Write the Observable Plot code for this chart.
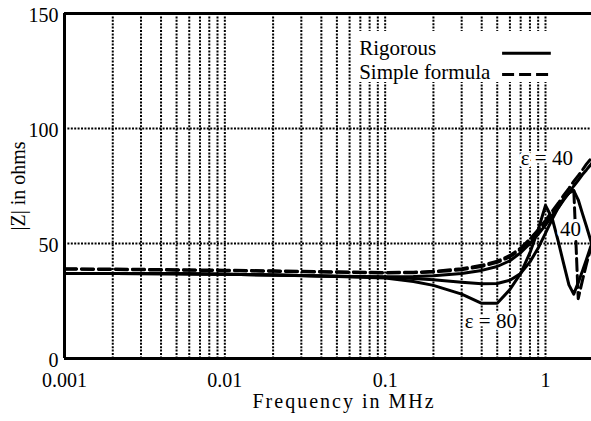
<!DOCTYPE html>
<html>
<head>
<meta charset="utf-8">
<script src="https://cdn.jsdelivr.net/npm/d3@7"></script>
<script src="https://cdn.jsdelivr.net/npm/@observablehq/plot@0.6"></script>
<style>
  html, body { margin: 0; padding: 0; background: #fff; }
  #chart svg, #chart svg text { font-family: "Liberation Serif", "Times New Roman", Times, serif !important; }
</style>
</head>
<body>
<div id="chart"></div>
<script>
// ---- data ----
const freq = [0.001, 0.002, 0.005, 0.01, 0.02, 0.05, 0.1, 0.15, 0.2, 0.3, 0.4, 0.5, 0.6, 0.7, 0.8, 0.9, 1.0, 1.1, 1.2, 1.3, 1.4, 1.5, 1.6, 1.7, 1.8, 1.9, 2.0];

// solid, smooth rising curve (upper pair)
const rigorousUpper = [37, 37, 36.8, 36.6, 36.3, 35.8, 35.5, 35.6, 36, 37, 38.3, 40, 42.5, 46, 50, 54, 58, 62, 65.5, 69, 72, 75, 77.5, 80, 82, 84, 86];
// dashed, smooth rising curve (upper pair)
const simpleUpper = [39, 38.9, 38.6, 38.4, 38.1, 37.7, 37.4, 37.5, 37.9, 39, 40.5, 42.3, 44.8, 48, 52, 56, 60, 64, 67.5, 71, 74, 77, 79.5, 82, 84.5, 86.5, 88.5];
// solid curve labelled "40" (dip ~32, peak ~73)
const rigorousMid = [37, 37, 36.8, 36.6, 36.3, 35.8, 35.3, 34.8, 34.2, 33.2, 32.5, 32.6, 34, 37, 42, 48, 54.5, 60.5, 65.5, 69.5, 72, 73, 69, 63, 57.5, 52, 47];
// solid curve labelled "ε = 80" (dip ~24, peak ~66, second dip ~28)
const rigorous80 = [37, 37, 36.8, 36.6, 36.3, 35.7, 35, 33.5, 31.8, 28, 24, 24, 30, 37, 46, 56, 66.5, 61, 51, 41, 32, 28, 33, 38, 43, 48, 52];
// dashed curve that follows the upper pair then drops sharply
const simpleDrop = [38.8, 38.7, 38.4, 38.2, 37.9, 37.5, 37.2, 37.3, 37.6, 38.6, 40, 41.8, 44.2, 47.4, 51.3, 55.3, 59.2, 63, 66.5, 69.5, 72, 74, 26, 34, 41, 47, 52];

const seriesNames = ["rigorousUpper", "simpleUpper", "rigorousMid", "rigorous80", "simpleDrop"];
const seriesValues = [rigorousUpper, simpleUpper, rigorousMid, rigorous80, simpleDrop];
const seriesDashed = [false, true, false, false, true];

const xTicks = [0.001, 0.01, 0.1, 1];
const xTickLabels = ["0.001", "0.01", "0.1", "1"];
const yTicks = [0, 50, 100, 150];
const gridX = [0.002, 0.003, 0.004, 0.005, 0.006, 0.007, 0.008, 0.009, 0.01,
               0.02, 0.03, 0.04, 0.05, 0.06, 0.07, 0.08, 0.09, 0.1,
               0.2, 0.3, 0.4, 0.5, 0.6, 0.7, 0.8, 0.9, 1];
const gridY = [50, 100];

const xTitle = "Frequency in MHz";
const yTitle = "|Z| in ohms";

const legendLabels = ["Rigorous", "Simple formula"];
const legendTextY = [134.7, 124.5];
const legendLineY = [132.7, 123.5];
const legendDashed = [false, true];

const annoText = ["ε = 40", "40", "ε = 80"];
const annoF = [1.02, 1.43, 0.456];
const annoZ = [87, 56.3, 16];

// ---- tables built from the arrays ----
const rows = [];
seriesNames.forEach((name, s) => {
  freq.forEach((f, i) => rows.push({f, z: seriesValues[s][i], series: name, dashed: seriesDashed[s]}));
});
const legendRows = legendLabels.map((label, i) => ({label, ty: legendTextY[i], ly: legendLineY[i], dashed: legendDashed[i]}));
const annoRows = annoText.map((t, i) => ({t, f: annoF[i], z: annoZ[i]}));

const font = "Liberation Serif, Times New Roman, Times, serif";
const dotted = {stroke: "#000", strokeWidth: 2, strokeDasharray: "2,1.4"};

const chart = Plot.plot({
  width: 591,
  height: 421,
  marginLeft: 64,
  marginRight: 0,
  marginTop: 13,
  marginBottom: 63,
  style: {fontFamily: font, fontSize: "20px", background: "#fff", color: "#000"},
  x: {type: "log", domain: [0.001, 1.936]},
  y: {domain: [0, 150]},
  marks: [
    Plot.ruleX(gridX, dotted),
    Plot.ruleY(gridY, dotted),
    Plot.line(rows.filter(d => !d.dashed), {x: "f", y: "z", z: "series", stroke: "#000", strokeWidth: 3, clip: true}),
    Plot.line(rows.filter(d => d.dashed), {x: "f", y: "z", z: "series", stroke: "#000", strokeWidth: 3, strokeDasharray: "12,5", clip: true}),
    Plot.ruleX([0.001], {stroke: "#000", strokeWidth: 3}),
    Plot.ruleY([0, 150], {stroke: "#000", strokeWidth: 3}),
    Plot.axisX(xTicks, {tickSize: 0, tickPadding: 14, tickFormat: d => xTickLabels[xTicks.indexOf(d)], label: null, fontSize: 20}),
    Plot.axisY(yTicks, {tickSize: 0, tickPadding: 6, dy: 2, label: null, fontSize: 20}),
    Plot.text([xTitle], {frameAnchor: "bottom", textAnchor: "middle", lineAnchor: "middle", dy: 43, dx: 16, fontSize: 20}),
    Plot.text([yTitle], {frameAnchor: "left", textAnchor: "middle", lineAnchor: "middle", rotate: -90, dx: -46, fontSize: 20}),
    // legend box
    Plot.rect([{x1: 0.0631, x2: 1.12, y1: 120, y2: 142.2}], {x1: "x1", x2: "x2", y1: "y1", y2: "y2", fill: "#fff"}),
    Plot.text(legendRows, {x: 0.0688, y: "ty", text: "label", textAnchor: "start", lineAnchor: "middle", fontSize: 21}),
    Plot.ruleY(legendRows.filter(d => !d.dashed), {y: "ly", x1: 0.54, x2: 1.087, stroke: "#000", strokeWidth: 3}),
    Plot.ruleY(legendRows.filter(d => d.dashed), {y: "ly", x1: 0.54, x2: 1.087, stroke: "#000", strokeWidth: 3, strokeDasharray: "12,5"}),
    // annotations
    Plot.text(annoRows, {x: "f", y: "z", text: "t", lineAnchor: "middle", fontSize: 21, fill: "#000", stroke: "#fff", strokeWidth: 6})
  ]
});

chart.querySelectorAll("text").forEach(t => {
  if (t.textContent === xTitle) t.style.letterSpacing = "2px";
});

document.getElementById("chart").appendChild(chart);
</script>
</body>
</html>
